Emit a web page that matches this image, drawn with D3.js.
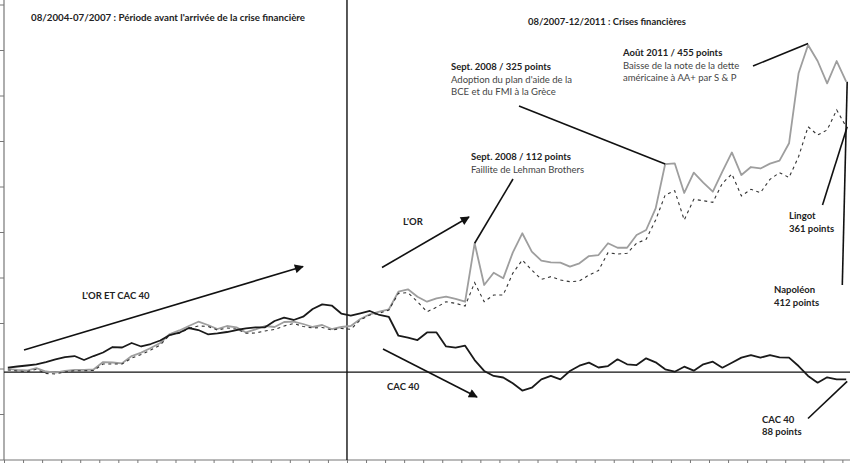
<!DOCTYPE html>
<html>
<head>
<meta charset="utf-8">
<script src="https://cdn.jsdelivr.net/npm/d3@7"></script>
<style>
  body { margin: 0; background: #fff; }
  svg { display: block; }
  text { font-family: Lato, "Open Sans", sans-serif; fill: #222; }
  .bold { font-weight: 700; }
</style>
</head>
<body>
<svg width="850" height="463"></svg>
<script>
// monthly index, 08/2004 -> 12/2011 (base 100)
var startMonth = "08/2004", endMonth = "12/2011", splitMonth = "08/2007";

var cac40 = [100.9,102.2,103.3,104.6,107.1,109.9,112.6,113.7,109.3,113.7,117.6,123.6,123.1,128.0,124.2,126.9,
  130.8,136.8,139.3,144.5,142.3,137.6,138.5,140.1,142.3,144.0,145.3,145.3,152.2,155.8,153.3,156.9,165.4,170.5,
  169.2,160.4,158.2,160.7,163.2,158.8,156.6,136.0,133.8,131.3,139.6,139.6,124.2,122.9,125.1,109.3,97.3,91.8,
  90.1,83.7,75.8,78.9,88.1,91.8,88.1,97.3,103.1,106.4,101.1,102.7,110.1,104.6,103.8,111.2,106.8,99.1,96.5,
  102.0,97.6,104.6,107.5,100.9,106.4,111.9,114.8,111.9,114.8,112.3,111.9,102.7,91.8,84.4,90.3,88.1,88.1];

var napoleon = [99.5,98.4,97.8,100.5,96.7,95.4,97.3,98.4,98.4,98.9,107.1,106.6,105.7,113.7,117.4,122.5,
  128.0,137.9,141.8,146.7,151.4,147.8,143.4,146.7,145.3,139.6,142.9,146.7,145.6,151.1,151.6,148.9,145.6,147.8,
  143.4,145.6,146.7,154.4,159.6,162.4,165.1,184.4,187.0,178.9,173.4,177.1,178.9,176.4,173.4,237.6,191.8,205.3,
  199.1,227.3,248.6,228.4,218.5,216.7,216.3,211.9,215.6,223.6,224.7,237.6,232.7,232.7,246.7,252.2,276.0,324.7,
  325.5,292.9,315.2,304.2,294.3,316.3,337.4,312.6,321.4,319.8,325.1,328.4,347.5,424.4,455.5,437.9,413.4,437.9,415.2];

var lingot = [98.4,97.3,96.5,99.1,94.5,94.0,96.2,97.6,97.6,97.8,104.9,104.9,104.9,111.5,115.4,120.3,
  125.8,136.8,138.7,144.0,146.7,146.2,142.3,144.5,143.4,138.7,139.0,141.2,142.9,146.7,149.5,146.2,144.5,145.1,
  142.3,144.0,143.1,153.3,158.8,160.7,164.3,182.6,183.3,173.4,162.4,167.3,173.4,171.6,168.7,194.3,173.4,180.8,
  180.8,204.6,219.2,208.2,198.0,200.9,197.3,195.4,196.2,202.7,207.7,227.3,225.8,226.6,237.6,242.0,263.2,290.7,
  295.4,263.2,285.9,284.4,282.6,303.5,313.7,289.6,296.9,293.2,307.9,315.2,309.9,332.7,365.7,356.6,362.1,384.1,365.7];

var yTicks = [0, 50, 100, 150, 200, 250, 300, 350, 400, 450, 500];
var baseLevel = 96;

var periodTitles = ["08/2004-07/2007 : Période avant l'arrivée de la crise financière",
                    "08/2007-12/2011 : Crises financières"];

var svg = d3.select("svg");
var W = 850, H = 463;

var n = cac40.length;
var x = d3.scaleLinear().domain([-0.4, n - 1 + 0.4]).range([4, 846.2 + 0.4 * 9.527]);
var y = d3.scaleLinear().domain([0, 500]).range([459.5, 4.5]);

// index of the month where the crisis period begins
function monthIndex(s) {
  var p = s.split("/"), q = startMonth.split("/");
  return (+p[1] - +q[1]) * 12 + (+p[0] - +q[0]);
}
var split = monthIndex(splitMonth) - 0.4;

// arrow marker
svg.append("defs").append("marker")
  .attr("id", "arrow")
  .attr("viewBox", "0 0 10 10")
  .attr("refX", 9).attr("refY", 5)
  .attr("markerWidth", 10).attr("markerHeight", 9)
  .attr("markerUnits", "userSpaceOnUse")
  .attr("orient", "auto")
  .append("path").attr("d", "M0,0 L10,5 L0,10 Z").attr("fill", "#111");

// AXES //
var leftAxis = d3.axisLeft(y).tickValues(yTicks).tickSize(4).tickSizeOuter(0).tickFormat("");
var gl = svg.append("g").attr("transform", "translate(4,0)").call(leftAxis);
gl.select(".domain").remove();
gl.selectAll("line").attr("stroke", "#777");
svg.append("line").attr("x1", 4).attr("x2", 4).attr("y1", 0).attr("y2", 460)
  .attr("stroke", "#777").attr("stroke-width", 1.2);

var monthTicks = d3.range(0, n, 2).map(function(i) { return i - 0.4; });
var bottomAxis = d3.axisBottom(x).tickValues(monthTicks).tickSize(4).tickSizeOuter(0).tickFormat("");
var gb = svg.append("g").attr("transform", "translate(0,460)").call(bottomAxis);
gb.select(".domain").remove();
gb.selectAll("line").attr("stroke", "#777");
svg.append("line").attr("x1", 4).attr("x2", W).attr("y1", 460).attr("y2", 460)
  .attr("stroke", "#777").attr("stroke-width", 1.2);

// base line and period divider
svg.append("line").attr("x1", 4).attr("x2", W).attr("y1", y(baseLevel)).attr("y2", y(baseLevel))
  .attr("stroke", "#111").attr("stroke-width", 1.4);
svg.append("line").attr("x1", x(split)).attr("x2", x(split)).attr("y1", 0).attr("y2", 460)
  .attr("stroke", "#111").attr("stroke-width", 1.4);

// SERIES //
var line = d3.line().x(function(d, i) { return x(i); }).y(function(d) { return y(d); });

svg.append("path").datum(napoleon).attr("d", line)
  .attr("fill", "none").attr("stroke", "#9e9e9e").attr("stroke-width", 1.8).attr("stroke-linejoin", "round");
svg.append("path").datum(lingot).attr("d", line)
  .attr("fill", "none").attr("stroke", "#333").attr("stroke-width", 1.1).attr("stroke-dasharray", "3,3.5");
svg.append("path").datum(cac40).attr("d", line)
  .attr("fill", "none").attr("stroke", "#1a1a1a").attr("stroke-width", 1.8).attr("stroke-linejoin", "round");

// TEXTS //
function label(tx, ty, lines, weights) {
  var t = svg.append("text").attr("x", tx).attr("y", ty).style("font-size", "9.5px");
  lines.forEach(function(s, k) {
    t.append("tspan").attr("x", tx).attr("dy", k === 0 ? 0 : 12.5)
      .attr("class", weights[k] ? "bold" : null)
      .style("fill", weights[k] ? "#222" : "#444")
      .text(s);
  });
}

svg.append("text").attr("class", "bold").attr("x", 31).attr("y", 21).style("font-size", "9.5px")
  .attr("textLength", 274).attr("lengthAdjust", "spacingAndGlyphs").text(periodTitles[0]);
svg.append("text").attr("class", "bold").attr("x", 528).attr("y", 25).style("font-size", "9.5px")
  .attr("textLength", 158).attr("lengthAdjust", "spacingAndGlyphs").text(periodTitles[1]);

label(623, 56, ["Août 2011 / 455 points", "Baisse de la note de la dette", "américaine à AA+ par S & P"], [1, 0, 0]);
label(451, 70, ["Sept. 2008 / 325 points", "Adoption du plan  d'aide de la", "BCE et du FMI à la Grèce"], [1, 0, 0]);
label(471, 160, ["Sept. 2008 / 112 points", "Faillite de Lehman Brothers"], [1, 0]);
label(403, 225, ["L'OR"], [1]);
label(82, 298.5, ["L'OR ET CAC 40"], [1]);
label(387, 389.5, ["CAC 40"], [1]);
label(762, 422.5, ["CAC 40", "88 points"], [1, 1]);
label(789, 219, ["Lingot", "361 points"], [1, 1]);
label(774, 293, ["Napoléon", "412 points"], [1, 1]);

// leader lines and arrows
function seg(x1, y1, x2, y2, arrow) {
  var l = svg.append("line").attr("x1", x1).attr("y1", y1).attr("x2", x2).attr("y2", y2)
    .attr("stroke", "#111").attr("stroke-width", 1.6);
  if (arrow) l.attr("marker-end", "url(#arrow)");
}
seg(753, 66, x(84), y(455) - 2);
seg(519, 106, x(69), y(napoleon[69]));
seg(513, 179, x(49), y(napoleon[49]));
seg(24, 350, 303, 266.5, true);
seg(382, 267.5, 469, 217, true);
seg(383, 349, 477, 397, true);
seg(808, 418.5, x(88) + 1, y(cac40[88]) + 2);
seg(822.5, 205, x(88) + 1, y(lingot[88]));
seg(842.3, 285, x(88) + 1, y(napoleon[88]));
</script>
</body>
</html>
